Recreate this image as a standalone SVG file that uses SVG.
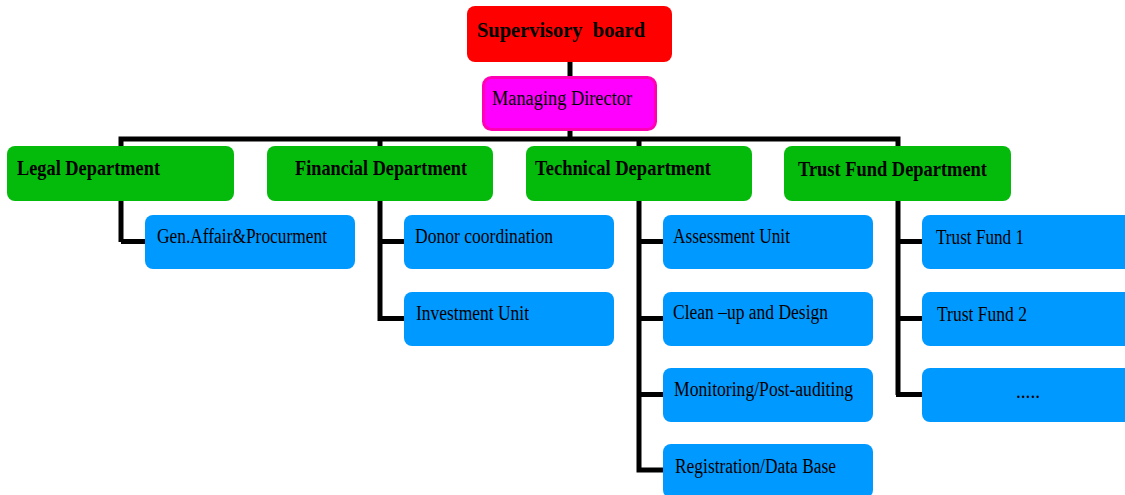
<svg xmlns="http://www.w3.org/2000/svg" width="1125" height="495" viewBox="0 0 1125 495">
<style>
.box{rx:8px;ry:8px}
.red{fill:#ff0000}
.mag{fill:#ff00ff;stroke:#ff00b4;stroke-width:3}
.dept{fill:#04bb0c}
.unit{fill:#0099ff}
text{font-family:"Liberation Serif","Times New Roman",serif;fill:#000}
.t{font-size:20px}
.b{font-size:21px;font-weight:bold}
.conn{stroke:#000;stroke-width:5;fill:none;stroke-linejoin:miter}
</style>
<rect width="1125" height="495" fill="#fff"/>
<g id="connectors">
<line class="conn" x1="570" y1="60" x2="570" y2="78"/>
<line class="conn" x1="570" y1="129" x2="570" y2="140"/>
<polyline class="conn" points="121,242 121,139 898,139 898,395"/>
<line class="conn" x1="121" y1="241.5" x2="148" y2="241.5"/>
<polyline class="conn" points="380,139 380,318.5 406,318.5"/>
<line class="conn" x1="380" y1="241.5" x2="406" y2="241.5"/>
<polyline class="conn" points="639,139 639,470 665,470"/>
<line class="conn" x1="639" y1="241.5" x2="665" y2="241.5"/>
<line class="conn" x1="639" y1="318.5" x2="665" y2="318.5"/>
<line class="conn" x1="639" y1="394.5" x2="665" y2="394.5"/>
<line class="conn" x1="898" y1="241.5" x2="924" y2="241.5"/>
<line class="conn" x1="898" y1="318.5" x2="924" y2="318.5"/>
<line class="conn" x1="896" y1="394.5" x2="924" y2="394.5"/>
</g>
<g id="supervisory-board"><rect class="box red" x="467" y="6" width="205" height="56"/><text class="b" x="477" y="37" textLength="168" lengthAdjust="spacingAndGlyphs">Supervisory&#160; board</text></g>
<g id="managing-director"><rect class="box mag" x="483.5" y="77.5" width="172" height="52"/><text class="t" x="492" y="105" textLength="140" lengthAdjust="spacingAndGlyphs">Managing Director</text></g>
<g id="legal-department"><rect class="box dept" x="7" y="146" width="227" height="55"/><text class="b" x="17" y="175" textLength="143" lengthAdjust="spacingAndGlyphs">Legal Department</text></g>
<g id="financial-department"><rect class="box dept" x="267" y="146" width="226" height="55"/><text class="b" x="295" y="175" textLength="172" lengthAdjust="spacingAndGlyphs">Financial Department</text></g>
<g id="technical-department"><rect class="box dept" x="526" y="146" width="226" height="55"/><text class="b" x="535" y="175" textLength="176" lengthAdjust="spacingAndGlyphs">Technical Department</text></g>
<g id="trust-fund-department"><rect class="box dept" x="784" y="146" width="227" height="55"/><text class="b" x="798" y="176" textLength="189" lengthAdjust="spacingAndGlyphs">Trust Fund Department</text></g>
<g id="gen-affair"><rect class="box unit" x="145" y="215" width="210" height="54"/><text class="t" x="157" y="243" textLength="170" lengthAdjust="spacingAndGlyphs">Gen.Affair&amp;Procurment</text></g>
<g id="donor-coordination"><rect class="box unit" x="404" y="215" width="210" height="54"/><text class="t" x="415" y="243" textLength="138" lengthAdjust="spacingAndGlyphs">Donor coordination</text></g>
<g id="investment-unit"><rect class="box unit" x="404" y="292" width="210" height="54"/><text class="t" x="416" y="320" textLength="113" lengthAdjust="spacingAndGlyphs">Investment Unit</text></g>
<g id="assessment-unit"><rect class="box unit" x="663" y="215" width="210" height="54"/><text class="t" x="673" y="243" textLength="117" lengthAdjust="spacingAndGlyphs">Assessment Unit</text></g>
<g id="clean-up-design"><rect class="box unit" x="663" y="292" width="210" height="54"/><text class="t" x="673" y="319" textLength="155" lengthAdjust="spacingAndGlyphs">Clean –up and Design</text></g>
<g id="monitoring"><rect class="box unit" x="663" y="368" width="210" height="54"/><text class="t" x="674" y="396" textLength="179" lengthAdjust="spacingAndGlyphs">Monitoring/Post-auditing</text></g>
<g id="registration"><rect class="box unit" x="663" y="444" width="210" height="54"/><text class="t" x="675" y="473" textLength="161" lengthAdjust="spacingAndGlyphs">Registration/Data Base</text></g>
<g id="trust-fund-1"><rect class="box unit" x="922" y="215" width="215" height="54"/><text class="t" x="936" y="244" textLength="88" lengthAdjust="spacingAndGlyphs">Trust Fund 1</text></g>
<g id="trust-fund-2"><rect class="box unit" x="922" y="292" width="215" height="54"/><text class="t" x="937" y="321" textLength="90" lengthAdjust="spacingAndGlyphs">Trust Fund 2</text></g>
<g id="trust-fund-more"><rect class="box unit" x="922" y="368" width="215" height="54"/><text class="t" x="1016" y="398" textLength="24" lengthAdjust="spacingAndGlyphs">.....</text></g>
</svg>
